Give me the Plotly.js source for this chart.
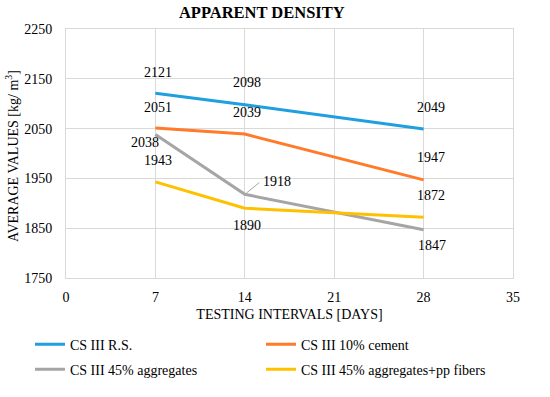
<!DOCTYPE html>
<html>
<head>
<meta charset="utf-8">
<script src="https://cdn.plot.ly/plotly-3.0.1.min.js"></script>
<style>html,body{margin:0;padding:0;background:#fff;}#chart{width:550px;height:397px;}</style>
</head>
<body>
<div id="chart"></div>
<script>
const days = [7, 14, 28];
const seriesNames = ["CS III R.S.", "CS III 10% cement", "CS III 45% aggregates", "CS III 45% aggregates+pp fibers"];
const rsValues = [2121, 2098, 2049];
const cementValues = [2051, 2039, 1947];
const aggValues = [2038, 1918, 1847];
const aggPpValues = [1943, 1890, 1872];
const xTicks = [0, 7, 14, 21, 28, 35];
const yTicks = [1750, 1850, 1950, 2050, 2150, 2250];
const yTitle = "AVERAGE VALUES [kg/ m<sup>3</sup>]";

const colors = ["#1f9fe0", "#ff7a2a", "#a5a5a5", "#ffc000"];
const allValues = [rsValues, cementValues, aggValues, aggPpValues];
const legendIds = ["legend", "legend2", "legend3", "legend4"];
const FONT = "Liberation Serif, Times New Roman, serif";

const traces = allValues.map((vals, i) => ({
  x: days, y: vals, type: "scatter", mode: "lines",
  name: seriesNames[i], line: {color: colors[i], width: 3},
  legend: legendIds[i], hoverinfo: "x+y"
}));

// label offsets in pixels [xshift, yshift] for each series/point
const offsets = [
  [[3, 21], [2, 22], [7, 22]],
  [[3, 21], [2, 22], [7, 22]],
  [[-10, -8], null, [8, -16]],
  [[3, 21], [2, -17], [7, 22]]
];
const annotations = [];
allValues.forEach((vals, i) => {
  vals.forEach((v, j) => {
    const off = offsets[i][j];
    if (off) {
      annotations.push({x: days[j], y: v, xref: "x", yref: "y", text: String(v),
        showarrow: false, xshift: off[0], yshift: off[1],
        font: {family: FONT, size: 14, color: "#000"}});
    }
  });
});
// leader-line label for the 45% aggregates series at day 14
annotations.push({x: days[1], y: aggValues[1], xref: "x", yref: "y", text: String(aggValues[1]),
  showarrow: true, arrowhead: 0, arrowwidth: 1, arrowcolor: "#a5a5a5",
  ax: 16, ay: -13, xanchor: "left", standoff: 2, startstandoff: 2,
  font: {family: FONT, size: 14, color: "#000"}});
// y-axis title drawn as a rotated annotation
annotations.push({x: -0.121, y: 0.49, xref: "paper", yref: "paper", text: yTitle,
  textangle: -90, showarrow: false, xanchor: "center", yanchor: "middle",
  font: {family: FONT, size: 14, color: "#000"}});

function leg(x, y) {
  return {orientation: "v", x: x, xref: "container", xanchor: "left",
    y: y, yref: "container", yanchor: "top",
    font: {family: FONT, size: 14, color: "#000"}, bgcolor: "rgba(0,0,0,0)"};
}

const layout = {
  width: 550, height: 397,
  margin: {l: 66, r: 37, t: 29, b: 119, autoexpand: false},
  paper_bgcolor: "#fff", plot_bgcolor: "#fff",
  font: {family: FONT, size: 13, color: "#000"},
  title: {text: "<b>APPARENT DENSITY</b>", x: 0.476, xref: "container", xanchor: "center",
    y: 0.968, yanchor: "middle",
    font: {family: FONT, size: 16.5, color: "#000"}},
  xaxis: {range: [0, 35], tickvals: xTicks, showgrid: true, gridcolor: "#d9d9d9", gridwidth: 1,
    zeroline: false, showline: true, linecolor: "#d9d9d9", mirror: true, ticks: "",
    ticklen: 0, ticklabelstandoff: 6, tickfont: {family: FONT, size: 14}, automargin: true,
    title: {text: "TESTING INTERVALS [DAYS]", standoff: 5, font: {family: FONT, size: 14}}},
  yaxis: {range: [1750, 2250], tickvals: yTicks, showgrid: true, gridcolor: "#d9d9d9", gridwidth: 1,
    zeroline: false, showline: true, linecolor: "#d9d9d9", mirror: true, ticks: "",
    ticklabelstandoff: 10, tickfont: {family: FONT, size: 14}, automargin: true},
  legend: leg(0.0545, 0.172),
  legend2: leg(0.4745, 0.172),
  legend3: leg(0.0545, 0.109),
  legend4: leg(0.4745, 0.109),
  annotations: annotations,
  showlegend: true
};

Plotly.newPlot("chart", traces, layout, {displayModeBar: false, staticPlot: true});
</script>
</body>
</html>
